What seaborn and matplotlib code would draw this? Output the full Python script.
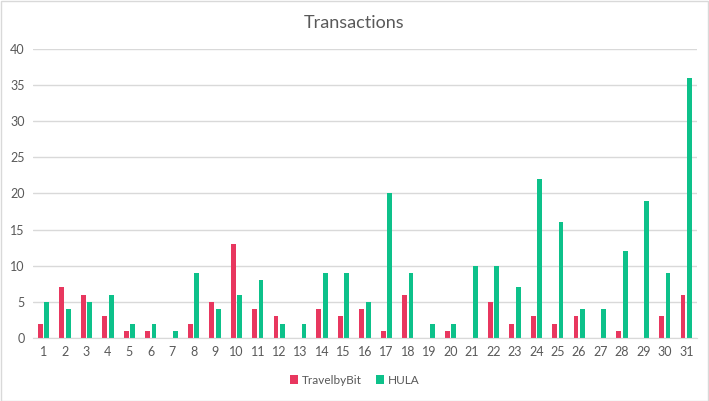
import matplotlib
matplotlib.use("Agg")
import matplotlib.pyplot as plt
import seaborn as sns
import pandas as pd
from matplotlib.patches import Patch

days = list(range(1, 32))
travelbybit = [2, 7, 6, 3, 1, 1, 0, 2, 5, 13, 4, 3, 0, 4, 3, 4, 1, 6, 0, 1, 0, 5, 2, 3, 2, 3, 0, 1, 0, 3, 6]
hula = [5, 4, 5, 6, 2, 2, 1, 9, 4, 6, 8, 2, 2, 9, 9, 5, 20, 9, 2, 2, 10, 10, 7, 22, 16, 4, 4, 12, 19, 9, 36]
series = ["TravelbyBit", "HULA"]
colors = ["#E8375F", "#0DC18A"]
y_ticks = [0, 5, 10, 15, 20, 25, 30, 35, 40]

df = pd.DataFrame({
    "day": [str(d) for d in days] * 2,
    "value": travelbybit + hula,
    "series": [series[0]] * len(days) + [series[1]] * len(days),
})

sns.set_style("white")
plt.rcParams["font.family"] = ["Lato", "DejaVu Sans"]

fig = plt.figure(figsize=(7.09, 4.01), dpi=100)
ax = fig.add_axes([0.0465, 0.157, 0.9365, 0.721])
sns.barplot(data=df, x="day", y="value", hue="series", palette=colors,
            width=0.6, gap=0.25, ax=ax, legend=False, saturation=1,
            linewidth=0, edgecolor="none")

ax.set_ylim(0, 40)
ax.set_yticks(y_ticks)
ax.set_xlim(-0.5, len(days) - 0.5)
ax.grid(axis="y", color="#D9D9D9", linewidth=1)
ax.set_axisbelow(True)
for s in ["top", "right", "left"]:
    ax.spines[s].set_visible(False)
ax.spines["bottom"].set_color("#D9D9D9")
ax.tick_params(axis="both", length=0, labelsize=9, colors="#595959", pad=6)
ax.set_xlabel("")
ax.set_ylabel("")

fig.text(0.5, 0.942, "Transactions", ha="center", va="center", fontsize=13, color="#595959")

handles = [Patch(facecolor=c, edgecolor="none") for c in colors]
fig.legend(handles, series, loc="center", bbox_to_anchor=(0.5, 0.052), ncol=2,
           frameon=False, fontsize=8.5, handlelength=0.7, handleheight=0.7,
           handletextpad=0.3, columnspacing=1.2, labelcolor="#595959")

border = plt.Rectangle((0.001, 0.001), 0.997, 0.997, transform=fig.transFigure,
                       fill=False, edgecolor="#D9D9D9", linewidth=1)
fig.patches.append(border)

fig.savefig("out.png", dpi=100)
